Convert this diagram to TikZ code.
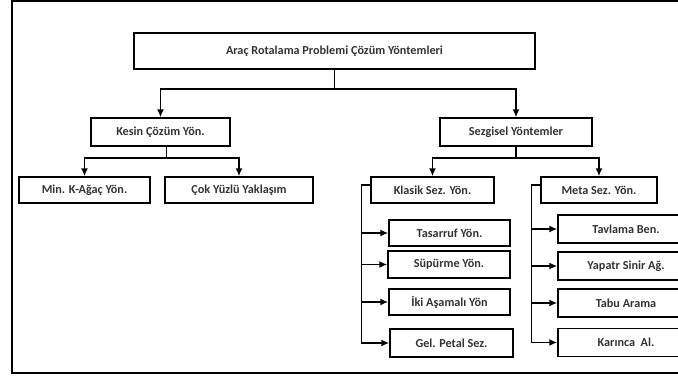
\documentclass[tikz,border=0pt]{standalone}
\usepackage{fontspec}
\setmainfont{Carlito}
\usetikzlibrary{arrows.meta}

\begin{document}
\begin{tikzpicture}[x=1pt, y=-1pt, box/.style={rectangle, draw, line width=1.5pt, align=center, minimum height=27pt, inner sep=2pt, font=\bfseries\fontsize{12.2}{14}\selectfont, text=black!80}, arrow/.style={-{Latex[length=8pt, width=7pt]}, line width=1.5pt}]
\useasboundingbox (0,0) rectangle (678,378);
\clip (0,0) rectangle (678,378);
\draw[line width=2.8pt] (12,1) rectangle (700,373);
\node[box, minimum width=401pt, minimum height=36pt] (root) at (334.5,51) {Araç Rotalama Problemi Çözüm Yöntemleri};
\node[box, minimum width=139pt, minimum height=28pt] (kesin) at (160.5,132) {Kesin Çözüm Yön.};
\node[box, minimum width=152pt, minimum height=28pt] (sezgisel) at (516,132) {Sezgisel Yöntemler};
\node[box, minimum width=131pt, minimum height=26pt] (minagac) at (84.5,190) {Min. K-Ağaç Yön.};
\node[box, minimum width=148pt, minimum height=26pt] (cokyuzlu) at (239,190) {Çok Yüzlü Yaklaşım};
\node[box, minimum width=123pt, minimum height=26pt] (klasik) at (432.5,190) {Klasik Sez. Yön.};
\node[box, minimum width=116pt, minimum height=26pt] (meta) at (599,190) {Meta Sez. Yön.};
\node[box, minimum width=121pt, minimum height=26pt] (tasarruf) at (449.5,233) {Tasarruf Yön.};
\node[box, minimum width=122pt] (supurme) at (449,264.5) {Süpürme Yön.};
\node[box, minimum width=121pt, minimum height=26pt] (ikiasama) at (449.5,302) {İki Aşamalı Yön};
\node[box, minimum width=123pt, minimum height=28pt] (petal) at (451.5,343) {Gel. Petal Sez.};
\node[box, minimum width=136pt, minimum height=28pt] (tavlama) at (626,229) {Tavlama Ben.};
\node[box, minimum width=136pt, minimum height=28pt] (yapay) at (626,266) {Yapatr Sinir Ağ.};
\node[box, minimum width=136pt, minimum height=28pt] (tabu) at (626,303) {Tabu Arama};
\node[box, minimum width=136pt, minimum height=28pt] (karinca) at (626,342.5) {Karınca\ \ Al.};
\draw[arrow] (root.south) -- ++(0,19) -| (kesin.north);
\draw[arrow] (root.south) -- ++(0,19) -| (sezgisel.north);
\draw[arrow] ([xshift=6pt]kesin.south) -- ++(0,11) -| (minagac.north);
\draw[arrow] ([xshift=6pt]kesin.south) -- ++(0,11) -| (cokyuzlu.north);
\draw[arrow] (sezgisel.south) -- ++(0,11) -| (klasik.north);
\draw[arrow] (sezgisel.south) -- ++(0,11) -| (meta.north);
\foreach \n in {tasarruf, supurme, ikiasama, petal}
  \draw[arrow] ([yshift=5pt]klasik.west) -- ++(-9,0) |- (\n.west);
\foreach \n in {tavlama, yapay, tabu, karinca}
  \draw[arrow] ([yshift=5pt]meta.west) -- ++(-9,0) |- (\n.west);
\end{tikzpicture}
\end{document}
